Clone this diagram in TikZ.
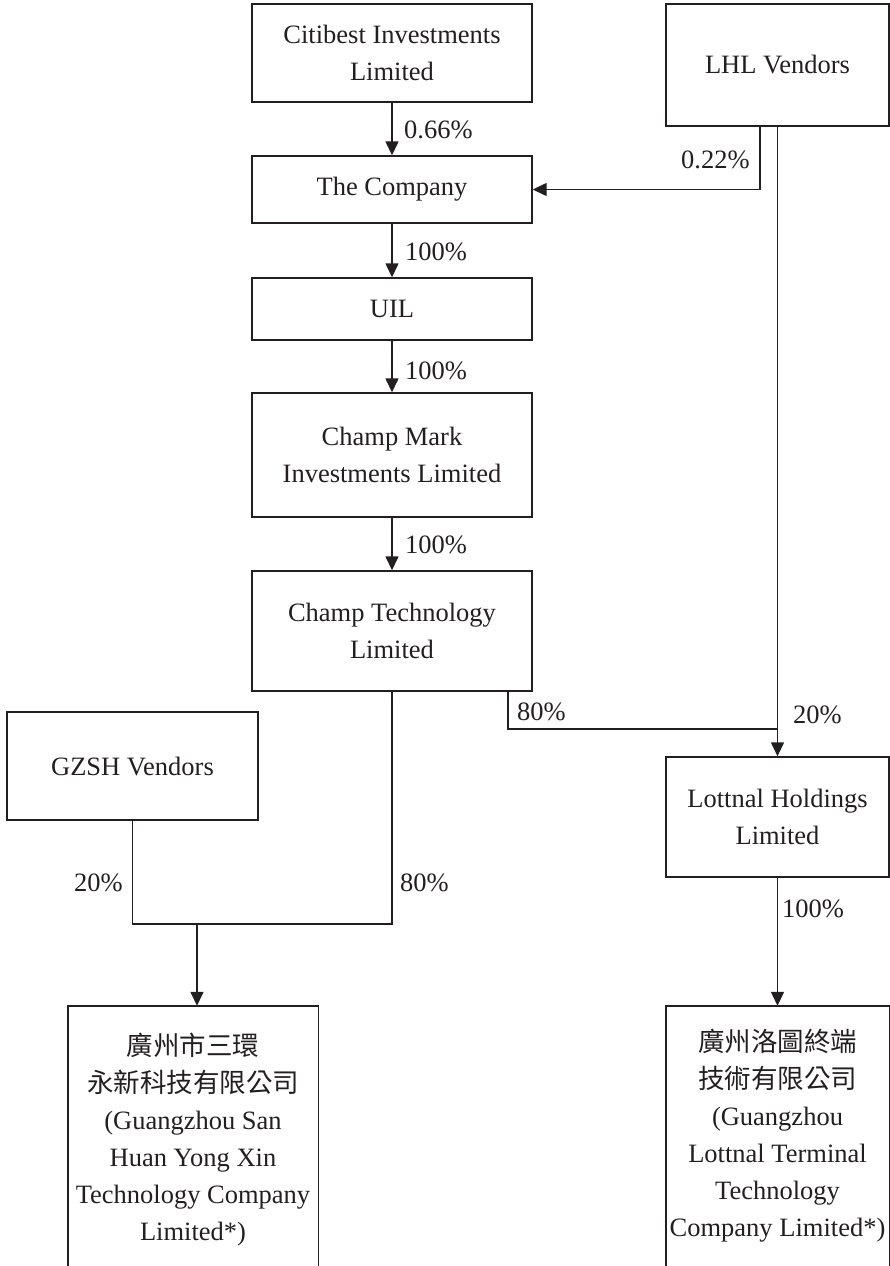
\documentclass[tikz,border=0pt]{standalone}
\usepackage{fontspec}
\setmainfont{Liberation Serif}
\newfontfamily\cjk{Noto Sans CJK TC}
\usetikzlibrary{arrows.meta}
\definecolor{ink}{HTML}{231F20}
\begin{document}
\begin{tikzpicture}[x=1pt,y=-1pt,
  box/.style={draw=ink, line width=1.4pt, rectangle, inner sep=0pt, align=center,
              text=ink, font=\fontsize{26.5}{37}\selectfont},
  openbox/.style={draw=none, rectangle, inner sep=0pt},
  boxtext/.style={inner sep=0pt, align=center, text=ink, font=\fontsize{26.5}{37}\selectfont},
  lbl/.style={text=ink, font=\fontsize{26.5}{30}\selectfont, inner sep=0pt},
  link/.style={draw=ink, line width=1.4pt},
  arr/.style={link, -{Triangle[length=14pt,width=13pt]}}]
\useasboundingbox (0,0) rectangle (890,1266);

% boxes
\node[box, minimum width=280, minimum height=98]  (cit)  at (392,53)    {Citibest Investments\\Limited};
\node[box, minimum width=223, minimum height=122] (lhl)  at (777.5,65)  {LHL Vendors};
\node[box, minimum width=280, minimum height=67]  (comp) at (392,189.5) {The Company};
\node[box, minimum width=280, minimum height=62]  (uil)  at (392,309)   {UIL};
\node[box, minimum width=280, minimum height=124] (mark) at (392,455)   {Champ Mark\\Investments Limited};
\node[box, minimum width=280, minimum height=120] (tech) at (392,631)   {Champ Technology\\Limited};
\node[box, minimum width=251, minimum height=108] (gzsh) at (132.5,766) {GZSH Vendors};
\node[box, minimum width=223, minimum height=120] (lott) at (777.5,817) {Lottnal Holdings\\Limited};

% open-bottom boxes
\node[openbox, minimum width=250, minimum height=260] (sh) at (193,1136) {};
\node[openbox, minimum width=223, minimum height=260] (gl) at (777.5,1136) {};
\draw[link] (sh.south west) |- (sh.north east) -- (sh.south east);
\draw[link] (gl.south west) |- (gl.north east) -- (gl.south east);
\node[boxtext, anchor=north] (shtext) at (193,1033)
  {{\cjk 廣州市三環}\\{\cjk 永新科技有限公司}\\(Guangzhou San\\Huan Yong Xin\\Technology Company\\Limited*)};
\node[boxtext, anchor=north] (gltext) at (777.5,1029)
  {{\cjk 廣州洛圖終端}\\{\cjk 技術有限公司}\\(Guangzhou\\Lottnal Terminal\\Technology\\Company Limited*)};

% junction points
\coordinate (j1) at (777.5,729);
\coordinate (j2) at (197,924);

% connectors
\draw[arr] (cit) -- (comp);
\draw[arr] ([xshift=-17.5pt]lhl.south) |- (comp.east);
\draw[arr] (comp) -- (uil);
\draw[arr] (uil) -- (mark);
\draw[arr] (mark) -- (tech);
\draw[arr] (lhl.south) -- (lott.north);
\draw[link] ([xshift=116pt]tech.south) |- (j1);
\draw[link] (tech.south) |- (gzsh.south |- j2) -- (gzsh.south);
\draw[arr] (j2) -- (j2 |- sh.north);
\draw[arr] (lott.south) -- (gl.north);

% labels
\node[lbl, anchor=base west] (l1) at (404,138) {0.66\%};
\node[lbl, anchor=base west] (l2) at (681,168) {0.22\%};
\node[lbl, anchor=base west] (l3) at (405,260) {100\%};
\node[lbl, anchor=base west] (l4) at (405,379) {100\%};
\node[lbl, anchor=base west] (l5) at (405,553) {100\%};
\node[lbl, anchor=base west] (l6) at (517,720) {80\%};
\node[lbl, anchor=base west] (l7) at (793,723) {20\%};
\node[lbl, anchor=base east] (l8) at (123,891) {20\%};
\node[lbl, anchor=base west] (l9) at (400,891) {80\%};
\node[lbl, anchor=base west] (l10) at (782,917) {100\%};
\end{tikzpicture}
\end{document}
